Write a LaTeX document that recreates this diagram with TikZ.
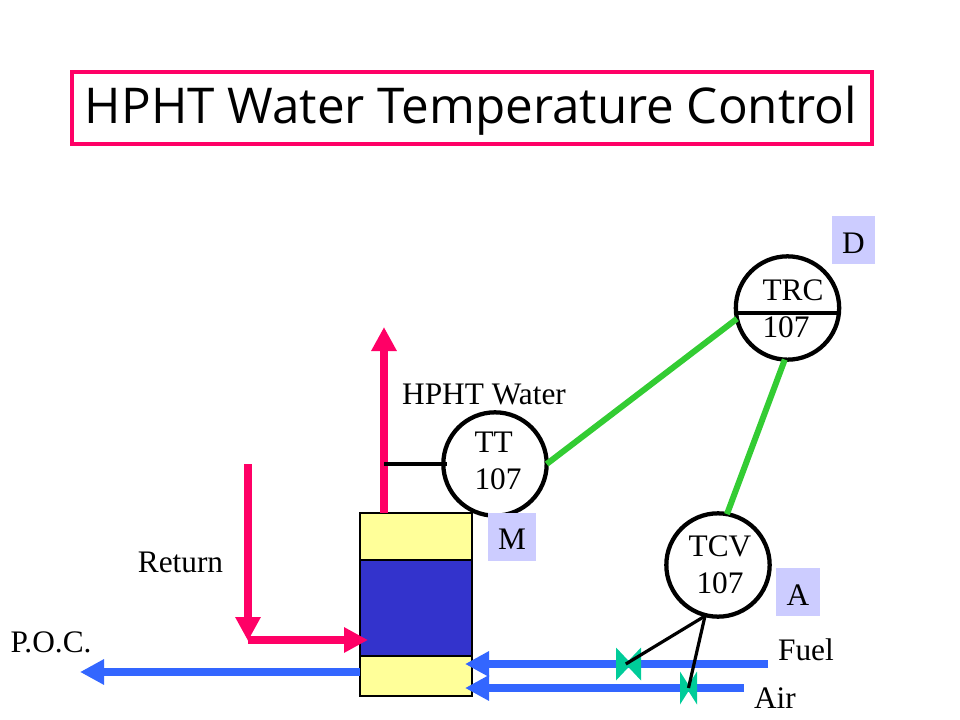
\documentclass[tikz,border=0pt]{standalone}
\usepackage{fontspec}
\setmainfont{Liberation Serif}
\newfontfamily\titlefont{Open Sans}
\usetikzlibrary{arrows.meta}

\definecolor{pinkline}{HTML}{FF0066}
\definecolor{blueline}{HTML}{3366FF}
\definecolor{greenline}{HTML}{33CC33}
\definecolor{valvegreen}{HTML}{00CC99}
\definecolor{tagblue}{HTML}{CCCCFF}
\definecolor{shellyellow}{HTML}{FFFF99}
\definecolor{coreblue}{HTML}{3333CC}

\tikzset{
  x=0.75pt, y=-0.75pt,
  every node/.style={font=\fontsize{23.5}{27.75}\selectfont, inner sep=0pt, outer sep=0pt},
  instrument/.style={circle, draw=black, line width=3.2pt, minimum size=77.5pt},
  tagbox/.style={fill=tagblue, minimum width=32.5pt, minimum height=36pt, text height=20pt, text depth=0pt},
  shell/.style={draw=black, line width=0.8pt, fill=shellyellow, minimum width=84pt, anchor=north west},
  pinkpipe/.style={draw=pinkline, line width=6pt, -{Triangle[length=18pt,width=18pt]}},
  bluepipe/.style={draw=blueline, line width=6pt, -{Triangle[length=18pt,width=18pt]}},
  signal/.style={draw=greenline, line width=4.5pt},
  sensorline/.style={draw=black, line width=3pt},
  valveline/.style={draw=black, line width=2.4pt},
}
\newcommand{\valveshape}[4]{% centre, half width, half height, overlap
  \fill[valvegreen] (#1) ++(-#2,-#3) -- ++(0,2*#3) -- ++(#2+#4,-#3) -- cycle;
  \fill[valvegreen] (#1) ++(#2,-#3) -- ++(0,2*#3) -- ++(-#2-#4,-#3) -- cycle;
}

\begin{document}
\begin{tikzpicture}
\useasboundingbox (0,0) rectangle (960,720);

% title
\node[draw=pinkline, line width=2.8pt, minimum width=600pt, minimum height=54pt] (title) at (472,108) {};
\node[font=\titlefont\fontsize{37}{40}\selectfont] (titletext) at (471,111) {HPHT Water Temperature Control};

% furnace
\node[shell, minimum height=35.25pt] (shelltop) at (360,513) {};
\node[shell, minimum height=72pt, fill=coreblue] (core) at (360,560) {};
\node[shell, minimum height=30pt] (shellbot) at (360,656) {};

% instruments
\node[instrument] (tt) at (495,464) {};
\node[instrument] (trc) at (787.5,308) {};
\node[instrument] (tcv) at (718,565) {};
\node[align=left] (tttext) at (498,460.5) {TT\\107};
\node[align=left] (trctext) at (793,308.5) {TRC\\107};
\node[align=center] (tcvtext) at (720,564.5) {TCV\\107};
\draw[sensorline] (trc.186) -- (trc.-6);

% tags
\node[tagbox] (tagd) at (853.5,240) {D};
\node[tagbox, minimum width=36pt] (tagm) at (512,536.5) {M};
\node[tagbox] (taga) at (798,592) {A};

% labels
\node (water) at (484,394) {HPHT Water};
\node (ret) at (180.5,562) {Return};
\node (poc) at (51,642) {P.O.C.};
\node (fuel) at (806,650) {Fuel};
\node (air) at (775,698) {Air};

% pipe ends
\coordinate (stack) at (384,513);
\coordinate (stacktop) at (384,327);
\coordinate (retstart) at (248,464);
\coordinate (retbend) at (248,640);
\coordinate (retend) at (368,640);
\coordinate (pocstart) at (360,672);
\coordinate (pocend) at (80,672);
\coordinate (fuelstart) at (768,664);
\coordinate (fuelend) at (465,664);
\coordinate (airstart) at (744,688);
\coordinate (airend) at (465,688);
\coordinate (fuelvalve) at (628.5,664);
\coordinate (airvalve) at (688.5,688);
\coordinate (tcvfoot) at (705,616);
\coordinate (tap) at (384,464);

\draw[pinkpipe] (stack) -- (stacktop);
\draw[pinkpipe] (retstart) -- ([yshift=-0.75pt]retbend);
\draw[pinkpipe] (retbend) -- (retend);
\draw[bluepipe] (pocstart) -- (pocend);
\draw[bluepipe] (fuelstart) -- (fuelend);
\draw[bluepipe] (airstart) -- (airend);

\valveshape{fuelvalve}{12.5}{16.5}{3}
\valveshape{airvalve}{8.5}{16.5}{2}
\draw[valveline] (tcvfoot) -- ([xshift=-2pt]fuelvalve);
\draw[valveline] (tcvfoot) -- (airvalve);
\draw[sensorline] (tap) -- ([xshift=3pt]tt.west);

% signal lines
\draw[signal] (tt.east) -- (trc.192);
\draw[signal] (trc.267) -- (tcv.80);
\end{tikzpicture}
\end{document}
